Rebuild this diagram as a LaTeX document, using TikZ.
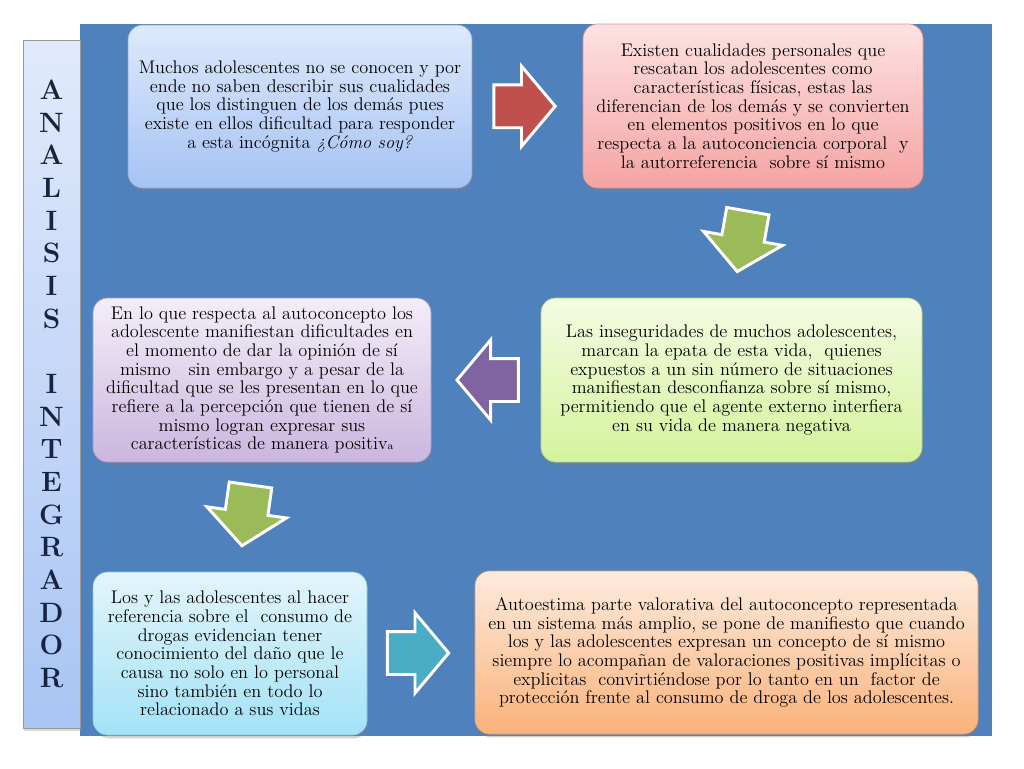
\documentclass[tikz,border=0pt]{standalone}
\usetikzlibrary{shapes.arrows,shadows,calc}

\definecolor{fondo}{HTML}{4F81BD}
\definecolor{letra}{HTML}{17233F}
\definecolor{rojo}{HTML}{C0504D}
\definecolor{verde}{HTML}{9BBB59}
\definecolor{morado}{HTML}{8064A2}
\definecolor{cian}{HTML}{4BACC6}
% box shades: top, bottom, edge
\definecolor{azulA}{HTML}{DDE9FB}\definecolor{azulB}{HTML}{A6C3F4}\definecolor{azulC}{HTML}{8EAADB}
\definecolor{rosaA}{HTML}{FDE2E2}\definecolor{rosaB}{HTML}{F5A3A3}\definecolor{rosaC}{HTML}{E08E8E}
\definecolor{verdeA}{HTML}{F4FBE3}\definecolor{verdeB}{HTML}{D4F39C}\definecolor{verdeC}{HTML}{B5D57A}
\definecolor{lilaA}{HTML}{F3EEF8}\definecolor{lilaB}{HTML}{CBB6DF}\definecolor{lilaC}{HTML}{B09CC6}
\definecolor{cianA}{HTML}{E3F5FB}\definecolor{cianB}{HTML}{A3E2F7}\definecolor{cianC}{HTML}{86C9E0}
\definecolor{narA}{HTML}{FDEBDD}\definecolor{narB}{HTML}{FAB27B}\definecolor{narC}{HTML}{E59F66}
\definecolor{latA}{HTML}{E0EAFB}\definecolor{latB}{HTML}{A9C5F4}

\tikzset{every picture/.style={line width=0.75pt}}
\tikzset{
  caja/.style={rounded corners=11pt, align=center, inner sep=0pt, line width=0.5pt,
    font=\fontsize{13.7}{14}\selectfont,
    drop shadow={shadow xshift=1pt, shadow yshift=-2.5pt, opacity=.35}},
  tono/.style={top color=#1A, bottom color=#1B, draw=#1C},
  lateral/.style={draw=black!40, line width=0.5pt, top color=latA, bottom color=latB,
    minimum width=42.75pt, minimum height=516pt, align=center, inner sep=0pt,
    text=letra, font=\fontsize{21}{24.5}\selectfont\bfseries,
    drop shadow={shadow xshift=1pt, shadow yshift=-2pt, opacity=.3}},
  flecha/.style={single arrow, draw=white, line width=2.2pt, minimum height=46pt,
    inner xsep=2pt, inner ysep=15pt, single arrow head extend=14pt, single arrow tip angle=100,
    drop shadow={shadow xshift=1pt, shadow yshift=-2pt, opacity=.3}}
}

\begin{document}
\begin{tikzpicture}[x=0.75pt,y=0.75pt,yscale=-1,xscale=1]
	\useasboundingbox (0,0) rectangle (1024,768);
	\fill[white] (0,0) rectangle (1024,768);

	%Shape: Rectangle [fondo]
	\fill[fondo] (80,24) rectangle (992,736);

	% Text Node
	\node[lateral] (lat) at (51.5,384) {A\\N\\A\\L\\I\\S\\I\\S\\ \mbox{}\\I\\N\\T\\E\\G\\R\\A\\D\\O\\R};

	% Text Node
	\node[caja, tono=azul, minimum width=258pt, minimum height=122.25pt] (b1) at (300,106.5)
	{Muchos adolescentes no se conocen y por\\ende no saben describir sus cualidades\\que los distinguen de los demás pues\\existe en ellos dificultad para responder\\a esta incógnita \textit{¿Cómo soy?}};
	% Text Node
	\node[caja, tono=rosa, minimum width=255pt, minimum height=123pt] (b2) at (753,106)
	{Existen cualidades personales que\\rescatan los adolescentes como\\características físicas, estas las\\diferencian de los demás y se convierten\\en elementos positivos en lo que\\respecta a la autoconciencia corporal \ y\\la autorreferencia \ sobre sí mismo};
	% Text Node
	\node[caja, tono=verde, minimum width=285.75pt, minimum height=123pt] (b3) at (731.5,380)
	{Las inseguridades de muchos adolescentes,\\marcan la epata de esta vida, \ quienes\\expuestos a un sin número de situaciones\\manifiestan desconfianza sobre sí mismo,\\permitiendo que el agente externo interfiera\\en su vida de manera negativa};
	% Text Node
	\node[caja, tono=lila, minimum width=253.5pt, minimum height=123pt] (b4) at (262,380)
	{En lo que respecta al autoconcepto los\\adolescente manifiestan dificultades en\\el momento de dar la opinión de sí\\mismo \ \ sin embargo y a pesar de la\\dificultad que se les presentan en lo que\\refiere a la percepción que tienen de sí\\mismo logran expresar sus\\características de manera positiv{\footnotesize a}};
	% Text Node
	\node[caja, tono=cian, minimum width=205.5pt, minimum height=122.25pt] (b5) at (230,653.5)
	{Los y las adolescentes al hacer\\referencia sobre el \ consumo de\\drogas evidencian tener\\conocimiento del daño que le\\causa no solo en lo personal\\sino también en todo lo\\relacionado a sus vidas};
	% Text Node
	\node[caja, tono=nar, minimum width=377.25pt, minimum height=122.25pt] (b6) at (726.5,652.5)
	{Autoestima parte valorativa del autoconcepto representada\\en un sistema más amplio, se pone de manifiesto que cuando\\los y las adolescentes expresan un concepto de sí mismo\\siempre lo acompañan de valoraciones positivas implícitas o\\explicitas \ convirtiéndose por lo tanto en un \ factor de\\protección frente al consumo de droga de los adolescentes.};

	%Shape: Right Arrow
	\node[flecha, fill=rojo, xshift=-9pt] (f1) at ($(b1.east)!.5!(b2.west)$) {};
	%Shape: Down Arrow
	\node[flecha, fill=verde, rotate=-100, xshift=-8pt] (f2) at ($(b2.south)!.5!(b3.north)$) {};
	%Shape: Left Arrow
	\node[flecha, fill=morado, rotate=180, xshift=-8pt] (f3) at ($(b3.west)!.5!(b4.east)$) {};
	%Shape: Down Arrow
	\node[flecha, fill=verde, rotate=-98, xshift=-8pt] (f4) at ($(b4.south)!.5!(b5.north)$) {};
	%Shape: Right Arrow
	\node[flecha, fill=cian, xshift=-9pt] (f5) at ($(b5.east)!.5!(b6.west)$) {};

\end{tikzpicture}
\end{document}
